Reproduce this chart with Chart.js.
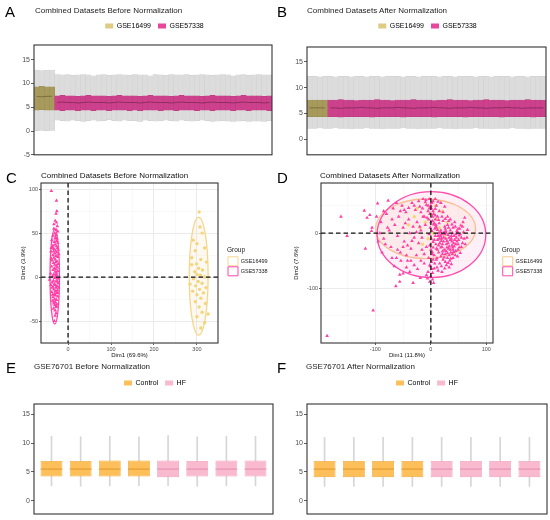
<!DOCTYPE html>
<html>
<head>
<meta charset="utf-8">
<title>Normalization panels</title>
<script src="https://cdn.jsdelivr.net/npm/chart.js@4.4.1/dist/chart.umd.min.js"></script>
<style>
  body { margin: 0; background: #fff; }
  #page { position: relative; width: 550px; height: 520px; overflow: hidden;
          font-family: 'Liberation Sans', Arial, Helvetica, sans-serif; }
  #page canvas { position: absolute; }
  .tag { position: absolute; font-size: 15px; line-height: 15px; color: #000; }
  .ttl { position: absolute; font-size: 8px; line-height: 9px; color: #222; white-space: nowrap; }
</style>
</head>
<body>
<div id="page">
  <canvas id="chartA" width="275" height="160" style="left:0;top:0"></canvas>
  <canvas id="chartB" width="275" height="160" style="left:275px;top:0"></canvas>
  <canvas id="chartC" width="275" height="200" style="left:0;top:160px"></canvas>
  <canvas id="chartD" width="275" height="200" style="left:275px;top:160px"></canvas>
  <canvas id="chartE" width="275" height="170" style="left:0;top:350px"></canvas>
  <canvas id="chartF" width="275" height="170" style="left:275px;top:350px"></canvas>

  <div class="tag" style="left:5px;top:4px">A</div>
  <div class="tag" style="left:277px;top:4px">B</div>
  <div class="tag" style="left:6px;top:170px">C</div>
  <div class="tag" style="left:277px;top:170px">D</div>
  <div class="tag" style="left:6px;top:360px">E</div>
  <div class="tag" style="left:277px;top:360px">F</div>

  <div class="ttl" style="left:35px;top:6px">Combined Datasets Before Normalization</div>
  <div class="ttl" style="left:307px;top:6px">Combined Datasets After Normalization</div>
  <div class="ttl" style="left:41px;top:171px;color:#111">Combined Datasets Before Normalization</div>
  <div class="ttl" style="left:320px;top:171px;color:#111">Combined Datasets After Normalization</div>
  <div class="ttl" style="left:34px;top:362px">GSE76701 Before Normalization</div>
  <div class="ttl" style="left:306px;top:362px">GSE76701 After Normalization</div>
</div>

<script>
// ---- A / B : combined datasets, one box per sample ----
const groupsAB = ['GSE16499', 'GSE57338'];
const groupSizeAB = [4, 42];

const beforeHi = [12.8,12.7,12.8,12.8,
  11.9,11.8,11.9,11.7,11.8, 11.9,11.8,11.6,11.8,11.9, 11.7,11.8,11.9,11.8,11.7, 11.9,11.8,11.8,11.6,11.9,
  11.8,11.7,11.9,11.8,11.8, 11.9,11.7,11.8,11.9,11.8, 11.7,11.8,11.9,11.8,11.6, 11.8,11.9,11.7,11.8,11.9,
  11.8,11.8];
const beforeLo = [0.1,0.0,0.1,0.0,
  2.3,2.2,2.1,2.3,2.2, 2.0,2.2,2.3,2.1,2.2, 2.4,2.2,2.1,2.3,2.2, 2.2,2.0,2.3,2.2,2.1,
  2.2,2.3,2.2,2.1,2.3, 2.2,2.1,2.2,2.3,2.2, 2.0,2.1,2.2,2.1,2.0, 2.1,2.2,2.0,2.1,2.1,
  2.0,2.2];
const beforeQ1 = [4.4,4.5,4.4,4.4,
  4.4,4.3,4.4,4.4,4.3, 4.4,4.4,4.3,4.4,4.4, 4.3,4.4,4.4,4.4,4.3, 4.4,4.3,4.4,4.4,4.4,
  4.3,4.4,4.4,4.3,4.4, 4.4,4.4,4.3,4.4,4.4, 4.3,4.4,4.4,4.4,4.3, 4.4,4.4,4.3,4.4,4.4,
  4.4,4.3];
const beforeQ3 = [9.3,9.4,9.3,9.3,
  7.4,7.5,7.4,7.4,7.3, 7.4,7.5,7.4,7.4,7.4, 7.3,7.4,7.5,7.4,7.4, 7.4,7.3,7.4,7.5,7.4,
  7.4,7.4,7.3,7.4,7.5, 7.4,7.4,7.4,7.3,7.4, 7.5,7.4,7.4,7.4,7.3, 7.4,7.5,7.4,7.4,7.4,
  7.3,7.4];
const beforeMed = [7.3,7.2,7.3,7.3,
  6.0,6.1,6.0,6.0,5.9, 6.0,6.1,6.0,6.0,6.0, 5.9,6.0,6.1,6.0,6.0, 6.0,5.9,6.0,6.1,6.0,
  6.0,6.0,5.9,6.0,6.1, 6.0,6.0,6.0,5.9,6.0, 6.1,6.0,6.0,6.0,5.9, 6.0,6.1,6.0,6.0,6.0,
  5.9,6.0];

const afterHi = [12.2,12.2,12.1,12.2,
  12.2,12.1,12.2,12.2,12.1, 12.2,12.2,12.1,12.2,12.2, 12.1,12.2,12.2,12.2,12.1, 12.2,12.2,12.1,12.2,12.2,
  12.2,12.1,12.2,12.2,12.1, 12.2,12.2,12.2,12.1,12.2, 12.2,12.1,12.2,12.2,12.2, 12.1,12.2,12.2,12.1,12.2,
  12.2,12.2];
const afterLo = [2.1,2.1,2.2,2.1,
  2.1,2.2,2.1,2.1,2.0, 2.1,2.1,2.2,2.1,2.1, 2.0,2.1,2.1,2.1,2.2, 2.1,2.1,2.0,2.1,2.1,
  2.1,2.2,2.1,2.1,2.0, 2.1,2.1,2.1,2.2,2.1, 2.1,2.0,2.1,2.1,2.1, 2.2,2.1,2.1,2.0,2.1,
  2.1,2.1];
const afterQ1 = [4.4,4.4,4.4,4.4,
  4.4,4.4,4.3,4.4,4.4, 4.4,4.4,4.4,4.3,4.4, 4.4,4.4,4.4,4.4,4.3, 4.4,4.4,4.4,4.4,4.4,
  4.3,4.4,4.4,4.4,4.4, 4.4,4.3,4.4,4.4,4.4, 4.4,4.4,4.4,4.3,4.4, 4.4,4.4,4.4,4.4,4.3,
  4.4,4.4];
const afterQ3 = [7.6,7.6,7.6,7.6,
  7.6,7.6,7.7,7.6,7.6, 7.5,7.6,7.6,7.6,7.7, 7.6,7.6,7.5,7.6,7.6, 7.6,7.7,7.6,7.6,7.6,
  7.5,7.6,7.6,7.7,7.6, 7.6,7.6,7.5,7.6,7.6, 7.7,7.6,7.6,7.6,7.5, 7.6,7.6,7.6,7.7,7.6,
  7.6,7.6];
const afterMed = [6.1,6.1,6.1,6.1,
  6.1,6.1,6.0,6.1,6.1, 6.1,6.2,6.1,6.1,6.0, 6.1,6.1,6.1,6.2,6.1, 6.1,6.0,6.1,6.1,6.1,
  6.2,6.1,6.1,6.0,6.1, 6.1,6.1,6.2,6.1,6.1, 6.0,6.1,6.1,6.1,6.2, 6.1,6.1,6.0,6.1,6.1,
  6.1,6.1];

// ---- C / D : PCA scores [Dim1, Dim2] ----
const pcaBeforeGSE16499 = [[305,74],[307,57],[312,50],[291,42],[300,38],[318,33],[296,30],[288,22],[309,20],
  [322,17],[299,15],[288,14],[304,10],[313,8],[295,6],[300,3],[308,2],[318,0],[292,-2],[303,-5],[312,-7],
  [297,-10],[321,-12],[306,-14],[290,-16],[315,-18],[300,-20],[309,-24],[296,-28],[320,-30],[305,-34],
  [312,-40],[300,-45],[318,-52],[309,-58],[326,-42],[284,-8]];
const pcaBeforeGSE57338 = [[-39,98],[-27,87],[-26,75],[-28,72],[-30,64],[-27,62],[-25,58],[-33,55],[-28,54],
  [-24,52],[-31,50],[-35,47],[-29,45],[-26,44],[-38,42],[-32,40],[-24,39],[-30,37],[-27,35],[-36,34],
  [-33,32],[-23,31],[-29,30],[-40,29],[-26,28],[-31,27],[-35,25],[-28,24],[-24,23],[-33,22],[-30,20],
  [-37,19],[-26,18],[-29,17],[-34,16],[-23,15],[-31,14],[-27,13],[-38,12],[-25,11],[-32,10],[-29,9],
  [-35,8],[-24,7],[-30,6],[-27,5],[-41,4],[-33,3],[-26,2],[-36,1],[-29,0],[-31,-1],[-25,-2],[-43,-3],
  [-34,-4],[-28,-5],[-37,-6],[-23,-7],[-32,-8],[-30,-9],[-26,-10],[-35,-11],[-28,-12],[-33,-14],[-25,-15],
  [-30,-16],[-38,-17],[-27,-18],[-32,-20],[-29,-21],[-24,-22],[-35,-23],[-31,-25],[-27,-26],[-33,-28],
  [-29,-29],[-26,-31],[-31,-32],[-28,-34],[-34,-36],[-30,-38],[-27,-33],[-36,-27],[-22,-12],[-40,-9],
  [-22,26],[-39,33],[-28,48],[-33,60],[-30,44],[-27,41],[-34,29],[-25,-5],[-31,-19],[-28,3],[-33,-30],
  [-30,-44],[-32,-50],[-28,-41],[-35,36],[-25,33],[-37,-12],[-24,-18],[-39,21],[-36,-20],[-23,-1]];

const pcaAfterGSE16499 = [[-10,20],[0,35],[10,25],[-20,10],[5,0],[-30,30],[15,10],[-5,-10],[20,40],
  [-40,15],[8,50],[-15,-20],[25,-5],[-25,45],[30,20]];
const pcaAfterGSE57338 = [[-187,-186],[-104,-140],[-162,30],[-151,-5],[-118,-28],[-120,41],[-115,28],
  [-110,33],[-106,10],[-107,4],[-96,54],[-77,59],[-63,-96],[-56,-88],[-56,-75],[-32,-90],[-19,-81],[-8,-76],
  [-62,-45],[-50,-73],
  [-90,20],[-85,-10],[-80,35],[-75,5],[-72,-25],[-68,45],[-65,15],[-60,-5],[-58,30],[-55,-35],[-52,50],
  [-50,10],[-48,-15],[-45,38],[-42,-50],[-40,25],[-38,0],[-36,-28],[-34,55],[-32,12],[-30,-8],[-28,42],
  [-26,-40],[-25,20],[-22,-18],[-20,48],[-18,5],[-16,-30],[-14,30],[-12,-55],[-10,15],[-9,60],[-85,40],
  [-70,-45],[-44,-62],[-66,-60],[-38,-70],
  [-3,62],[2,56],[-5,50],[1,45],[4,40],[-2,35],[3,30],[-4,25],[0,20],[5,16],[-1,10],[2,4],[-3,-2],[1,-10],
  [4,-16],[-2,-22],[0,-30],[3,-38],[-4,-45],[1,-52],[-2,-58],[2,-65],[-5,-70],[0,-78],[3,-84],[-1,-60],[4,-48],
  [8,25],[12,30],[15,18],[10,10],[18,5],[22,22],[25,12],[20,-2],[28,0],[30,15],[33,-8],[35,5],[38,-15],
  [40,10],[42,-5],[45,-20],[48,2],[50,-12],[52,8],[55,-25],[8,-5],[12,-12],[16,-18],[20,-25],[24,-30],
  [28,-20],[32,-28],[36,-35],[40,-30],[44,-40],[14,-35],[18,-42],[22,-48],[26,-38],[30,-45],[34,-50],
  [10,-28],[6,-40],[38,-22],[46,-8],[27,-10],[31,-3],[19,-10],[23,-15],[35,-12],[41,-18],[17,2],[13,-5],
  [9,15],[26,8],[43,20],[49,-30],[53,-2],[57,12],[60,-10],[61,28],[49,8],[15,40],[25,48],[18,55],[10,50],
  [22,38],[5,35],[30,30],[35,25],[40,-45],[16,-55],[28,-58],[11,-62],[20,-70],[33,-62],[65,-8],
  [-8,51],[1,55],[13,57],[-15,45],[-5,40],[8,44],[-12,30],[-18,38],[-7,28],
  [14,-22],[21,-33],[29,-26],[37,-5],[24,2],[7,8],[47,-15],[32,10],[18,-6],[11,-45],[39,0],[26,-52],
  [3,22],[6,18],[9,12],[12,6],[14,0],[17,-4],[19,-14],[21,-20],[23,-8],[25,-2],[27,4],[29,-14],[31,-18],
  [33,-24],[35,-30],[37,-10],[39,-26],[41,-34],[43,-12],[45,-2],[47,4],[49,-20],[51,-26],[53,-36],[55,-8],
  [57,-18],[59,2],[44,12],[38,16],[32,22],[26,26],[20,30],[14,24],[8,32],[6,-12],[9,-20],[12,-30],[15,-10],
  [18,-26],[21,-38],[24,-44],[27,-32],[30,-36],[33,-40],[36,-46],[39,-38],[42,-24],[45,-32],[48,-42],
  [51,-4],[54,14],[58,20],[62,-20],[66,6],[10,-48],[7,-55],[13,-68],[19,-60],[25,-64],[31,-54],[37,-56],
  [4,-26],[2,-34],[6,-64],[3,-72],[-6,-82],[-2,-88],[5,-90],
  [-3,45],[0,50],[4,58],[8,62],[-10,56],[-14,62],[-22,58],[-30,50],[-40,46],[-48,42],[-55,40],[-62,55],
  [-70,25],[-78,10],[-82,-20],[-88,-35],[-92,0],[-98,30],[-95,-15],
  [-50,-25],[-44,-40],[-36,-50],[-30,-58],[-24,-65],[-18,-50],[-12,-38],[-8,-25],[-16,-8],[-20,12],
  [-26,2],[-34,-14],[-42,-22],[-46,18],[-54,-50],[-60,-30]];

// confidence ellipses [centreX, centreY, radiusX, radiusY]
const ellipseBefore = { GSE16499: [304, 1, 22, 67], GSE57338: [-31, 0.5, 11, 54] };
const ellipseAfter = { GSE16499: [-9.5, 8, 90, 54], GSE57338: [1, -2.5, 98, 78] };

// ---- E / F : GSE76701, one box per sample ----
const groupsEF = ['Control', 'HF'];
const sampleGroupEF = ['Control', 'Control', 'Control', 'Control', 'HF', 'HF', 'HF', 'HF'];
const eBeforeHi = [11.2, 11.1, 11.2, 11.1, 11.3, 11.1, 11.2, 11.2];
const eBeforeLo = [2.6, 2.5, 2.6, 2.6, 2.6, 2.5, 2.6, 2.6];
const eBeforeQ1 = [4.2, 4.2, 4.2, 4.2, 4.1, 4.2, 4.2, 4.2];
const eBeforeQ3 = [6.9, 6.9, 7.0, 7.0, 7.0, 6.9, 7.0, 7.0];
const eBeforeMed = [5.5, 5.5, 5.5, 5.5, 5.5, 5.5, 5.5, 5.5];
const eAfterHi = [11.0, 11.0, 11.0, 11.0, 11.0, 11.0, 11.0, 11.0];
const eAfterLo = [2.5, 2.5, 2.5, 2.5, 2.5, 2.5, 2.5, 2.5];
const eAfterQ1 = [4.1, 4.1, 4.1, 4.1, 4.1, 4.1, 4.1, 4.1];
const eAfterQ3 = [6.9, 6.9, 6.9, 6.9, 6.9, 6.9, 6.9, 6.9];
const eAfterMed = [5.5, 5.5, 5.5, 5.5, 5.5, 5.5, 5.5, 5.5];

// colours
const fillAB = { GSE16499: '#a79a5c', GSE57338: '#cc408c' };
const edgeAB = { GSE16499: '#978a4e', GSE57338: '#bb3a80' };
const medAB = { GSE16499: '#6f6538', GSE57338: '#7d2955' };
const keyAB = { GSE16499: '#ddcc82', GSE57338: '#e8469c' };
const fillEF = { Control: '#fdbf5a', HF: '#f9b9cf' };
const edgeEF = { Control: '#f0a73b', HF: '#f1a1bd' };
const medEF = { Control: '#de9628', HF: '#e28bab' };
const pointCD = { GSE16499: '#f3d57c', GSE57338: '#ff3fa5' };
const ringCD = { GSE16499: '#f5d68c', GSE57338: '#ff47ab' };
const ringAfterCD = { GSE16499: '#f8c98e', GSE57338: '#ff4aad' };

Chart.defaults.font.family = "'Liberation Sans', Arial, Helvetica, sans-serif";
Chart.defaults.color = '#1a1a1a';
Chart.defaults.animation = false;
Chart.defaults.plugins.tooltip.enabled = false;

// panel border
const framePlugin = {
    id: 'frame',
    afterDatasetsDraw(chart) {
        const {ctx, chartArea: a} = chart;
        ctx.save();
        ctx.strokeStyle = '#333';
        ctx.lineWidth = 1.1;
        ctx.strokeRect(a.left, a.top, a.width, a.height);
        ctx.restore();
    }
};

// put the legend where the reference has it (layout keeps its space)
const legendPos = {
    id: 'legendPos',
    afterLayout(chart, args, opts) {
        const lg = chart.legend;
        if (!lg) return;
        const w = lg.width, h = lg.height;
        lg.left = opts.cx !== undefined ? opts.cx - w / 2 : opts.left;
        lg.right = lg.left + w;
        lg.top = opts.top;
        lg.bottom = lg.top + h;
    }
};

// PCA ellipses, behind the points
const ellipsePlugin = {
    id: 'ellipses',
    beforeDatasetsDraw(chart, args, opts) {
        const {ctx, chartArea: a, scales: {x, y}} = chart;
        ctx.save();
        ctx.beginPath();
        ctx.rect(a.left, a.top, a.width, a.height);
        ctx.clip();
        opts.items.forEach(e => {
            const px = x.getPixelForValue(e.c[0]);
            const py = y.getPixelForValue(e.c[1]);
            const rx = Math.abs(x.getPixelForValue(e.c[0] + e.c[2]) - px);
            const ry = Math.abs(y.getPixelForValue(e.c[1] + e.c[3]) - py);
            ctx.beginPath();
            ctx.ellipse(px, py, rx, ry, 0, 0, Math.PI * 2);
            ctx.fillStyle = e.fill;
            ctx.fill();
            ctx.lineWidth = e.width;
            ctx.strokeStyle = e.stroke;
            ctx.stroke();
        });
        ctx.restore();
    }
};

// dashed lines through the origin
const zeroLines = {
    id: 'zeroLines',
    afterDatasetsDraw(chart) {
        const {ctx, chartArea: a, scales: {x, y}} = chart;
        const x0 = x.getPixelForValue(0), y0 = y.getPixelForValue(0);
        ctx.save();
        ctx.strokeStyle = '#111';
        ctx.lineWidth = 1.3;
        ctx.setLineDash([4.5, 3]);
        ctx.beginPath();
        ctx.moveTo(x0, a.top); ctx.lineTo(x0, a.bottom);
        ctx.moveTo(a.left, y0); ctx.lineTo(a.right, y0);
        ctx.stroke();
        ctx.restore();
    }
};

function topLegend(groups, colors) {
    return {
        display: true,
        position: 'top',
        labels: {
            boxWidth: 8, boxHeight: 5, padding: 7, font: {size: 7}, color: '#1a1a1a',
            generateLabels: () => groups.map((g, i) => ({
                text: g, fillStyle: colors[g], strokeStyle: colors[g], lineWidth: 0, hidden: false, datasetIndex: i
            }))
        }
    };
}

function yAxisBox(min, max, width) {
    return {
        type: 'linear', min: min, max: max,
        afterFit: s => { s.width = width; },
        border: {display: false},
        grid: {drawOnChartArea: false, tickLength: 3, tickColor: '#333', tickWidth: 0.8},
        ticks: {stepSize: 5, includeBounds: false, padding: 1, font: {size: 7}, color: '#4d4d4d'}
    };
}

// A, B: many samples, boxes touch each other
function combinedBoxes(id, s, yMin, yMax, yWidth, pad, legendCx) {
    const sampleGroup = [];
    groupsAB.forEach((g, k) => { for (let i = 0; i < groupSizeAB[k]; i++) sampleGroup.push(g); });
    const labels = sampleGroup.map((g, i) => g + '_' + (i + 1));
    const medLines = groupsAB.map(g => ({
        type: 'line',
        data: s.med.map((v, i) => (sampleGroup[i] === g ? v : null)),
        borderColor: medAB[g], borderWidth: 0.8, pointRadius: 0, spanGaps: false, order: 1
    }));
    return new Chart(document.getElementById(id), {
        type: 'bar',
        data: {
            labels: labels,
            datasets: [{
                data: s.lo.map((v, i) => [v, s.hi[i]]),
                backgroundColor: '#dcdcdc', borderColor: '#cfcfcf', borderWidth: 0.4, borderSkipped: false,
                barPercentage: 1, categoryPercentage: 1, grouped: false, order: 3
            }, {
                data: s.q1.map((v, i) => [v, s.q3[i]]),
                backgroundColor: sampleGroup.map(g => fillAB[g]), borderColor: sampleGroup.map(g => edgeAB[g]),
                borderWidth: 0.4, borderSkipped: false,
                barPercentage: 1, categoryPercentage: 1, grouped: false, order: 2
            }].concat(medLines)
        },
        options: {
            responsive: false,
            layout: {autoPadding: false, padding: pad},
            plugins: {
                legend: topLegend(groupsAB, keyAB),
                legendPos: {cx: legendCx, top: 15.5}
            },
            scales: {
                x: {display: false, offset: true},
                y: yAxisBox(yMin, yMax, yWidth)
            }
        },
        plugins: [framePlugin, legendPos]
    });
}

// E, F: eight samples
function sampleBoxes(id, s, yWidth, pad, legendCx) {
    const xs = sampleGroupEF.map((g, i) => i + 1);
    return new Chart(document.getElementById(id), {
        type: 'bar',
        data: {
            datasets: [{
                data: xs.map((x, i) => ({x: x, y: [s.lo[i], s.hi[i]]})),
                backgroundColor: '#d6d6d6', barThickness: 1, grouped: false, order: 3
            }, {
                data: xs.map((x, i) => ({x: x, y: [s.q1[i], s.q3[i]]})),
                backgroundColor: sampleGroupEF.map(g => fillEF[g]), borderColor: sampleGroupEF.map(g => edgeEF[g]),
                borderWidth: 0.8, borderSkipped: false,
                barPercentage: 0.75, categoryPercentage: 1, grouped: false, order: 2
            }, {
                type: 'line',
                data: xs.map((x, i) => ({x: x, y: s.med[i]})),
                showLine: false, pointStyle: 'line', pointRadius: 10.8,
                pointBorderColor: sampleGroupEF.map(g => medEF[g]), pointBorderWidth: 1, order: 1
            }]
        },
        options: {
            responsive: false,
            layout: {autoPadding: false, padding: pad},
            plugins: {
                legend: topLegend(groupsEF, fillEF),
                legendPos: {cx: legendCx, top: 22.5}
            },
            scales: {
                x: {
                    type: 'linear', min: 0.4, max: 8.6, display: false, offset: false,
                    grid: {offset: false}, ticks: {stepSize: 1, includeBounds: false}
                },
                y: yAxisBox(-2.3, 16.8, yWidth)
            }
        },
        plugins: [framePlugin, legendPos]
    });
}

function pcaAxis(min, max, step, labelEvery, title, fit) {
    const major = v => Math.abs(v % labelEvery) < 1e-6;
    return {
        type: 'linear', min: min, max: max,
        afterFit: fit,
        border: {display: false},
        grid: {
            color: c => (major(c.tick.value) ? '#e6e6e6' : '#f3f3f3'),
            lineWidth: c => (major(c.tick.value) ? 0.8 : 0.5),
            tickColor: c => (major(c.tick.value) ? '#333' : 'rgba(0,0,0,0)'),
            tickLength: 2
        },
        ticks: {
            stepSize: step, includeBounds: false, autoSkip: false, maxRotation: 0, padding: 1,
            font: {size: 5.5}, color: '#4d4d4d',
            callback: v => (major(v) ? v : '')
        },
        title: {display: true, text: title, font: {size: 6}, color: '#111', padding: 0}
    };
}

function pcaPanel(id, pts, rings, ringColors, ax, legendLeft) {
    return new Chart(document.getElementById(id), {
        type: 'scatter',
        data: {
            datasets: [{
                label: 'GSE16499',
                data: pts.GSE16499.map(p => ({x: p[0], y: p[1]})),
                pointStyle: 'circle', pointRadius: 1.7, borderWidth: 0,
                backgroundColor: pointCD.GSE16499, order: 2
            }, {
                label: 'GSE57338',
                data: pts.GSE57338.map(p => ({x: p[0], y: p[1]})),
                pointStyle: 'triangle', pointRadius: 2.1, borderWidth: 0,
                backgroundColor: pointCD.GSE57338, order: 1
            }]
        },
        options: {
            responsive: false,
            layout: {autoPadding: false, padding: {left: ax.padLeft, top: 23, right: 57, bottom: 1}},
            plugins: {
                legend: {
                    display: true,
                    position: 'chartArea',
                    align: 'start',
                    title: {display: true, text: 'Group', position: 'start', font: {size: 6.5}, color: '#1a1a1a', padding: {top: 0, bottom: 1}},
                    labels: {
                        boxWidth: 10, boxHeight: 9, padding: 1, font: {size: 5.5}, color: '#1a1a1a',
                        generateLabels: () => groupsAB.map((g, i) => ({
                            text: g, fillStyle: 'rgba(255,255,255,0.9)', strokeStyle: ringColors[g], lineWidth: 1,
                            hidden: false, datasetIndex: i
                        }))
                    }
                },
                legendPos: {left: legendLeft, top: 87},
                ellipses: {
                    items: groupsAB.map(g => ({
                        c: rings[g], stroke: ringColors[g], width: 1.3,
                        fill: g === 'GSE16499' ? 'rgba(248,210,140,0.13)' : 'rgba(255,90,175,0.09)'
                    }))
                }
            },
            scales: {
                x: pcaAxis(ax.xMin, ax.xMax, ax.xStep, ax.xLab, ax.xTitle, s => { s.height = 16; }),
                y: pcaAxis(ax.yMin, ax.yMax, ax.yStep, ax.yLab, ax.yTitle, s => { s.width = ax.yWidth; })
            }
        },
        plugins: [ellipsePlugin, zeroLines, framePlugin, legendPos]
    });
}

combinedBoxes('chartA', {hi: beforeHi, lo: beforeLo, q1: beforeQ1, q3: beforeQ3, med: beforeMed},
    -5, 18.1, 34, {top: 21, right: 3, bottom: 3, left: 0}, 154.5);
combinedBoxes('chartB', {hi: afterHi, lo: afterLo, q1: afterQ1, q3: afterQ3, med: afterMed},
    -3.0, 17.9, 32, {top: 23, right: 4, bottom: 3, left: 0}, 152.5);

pcaPanel('chartC', {GSE16499: pcaBeforeGSE16499, GSE57338: pcaBeforeGSE57338}, ellipseBefore, ringCD, {
    padLeft: 20, yWidth: 21,
    xMin: -63, xMax: 349, xStep: 50, xLab: 100, xTitle: 'Dim1 (69.6%)',
    yMin: -75, yMax: 107, yStep: 25, yLab: 50, yTitle: 'Dim2 (3.9%)'
}, 227);
pcaPanel('chartD', {GSE16499: pcaAfterGSE16499, GSE57338: pcaAfterGSE57338}, ellipseAfter, ringAfterCD, {
    padLeft: 18, yWidth: 28,
    xMin: -198, xMax: 112, xStep: 50, xLab: 100, xTitle: 'Dim1 (11.8%)',
    yMin: -199, yMax: 91, yStep: 50, yLab: 100, yTitle: 'Dim2 (7.6%)'
}, 226.7);

sampleBoxes('chartE', {hi: eBeforeHi, lo: eBeforeLo, q1: eBeforeQ1, q3: eBeforeQ3, med: eBeforeMed},
    34, {top: 30, right: 2, bottom: 6, left: 0}, 155);
sampleBoxes('chartF', {hi: eAfterHi, lo: eAfterLo, q1: eAfterQ1, q3: eAfterQ3, med: eAfterMed},
    32, {top: 30, right: 3, bottom: 6, left: 0}, 152);
</script>
</body>
</html>
